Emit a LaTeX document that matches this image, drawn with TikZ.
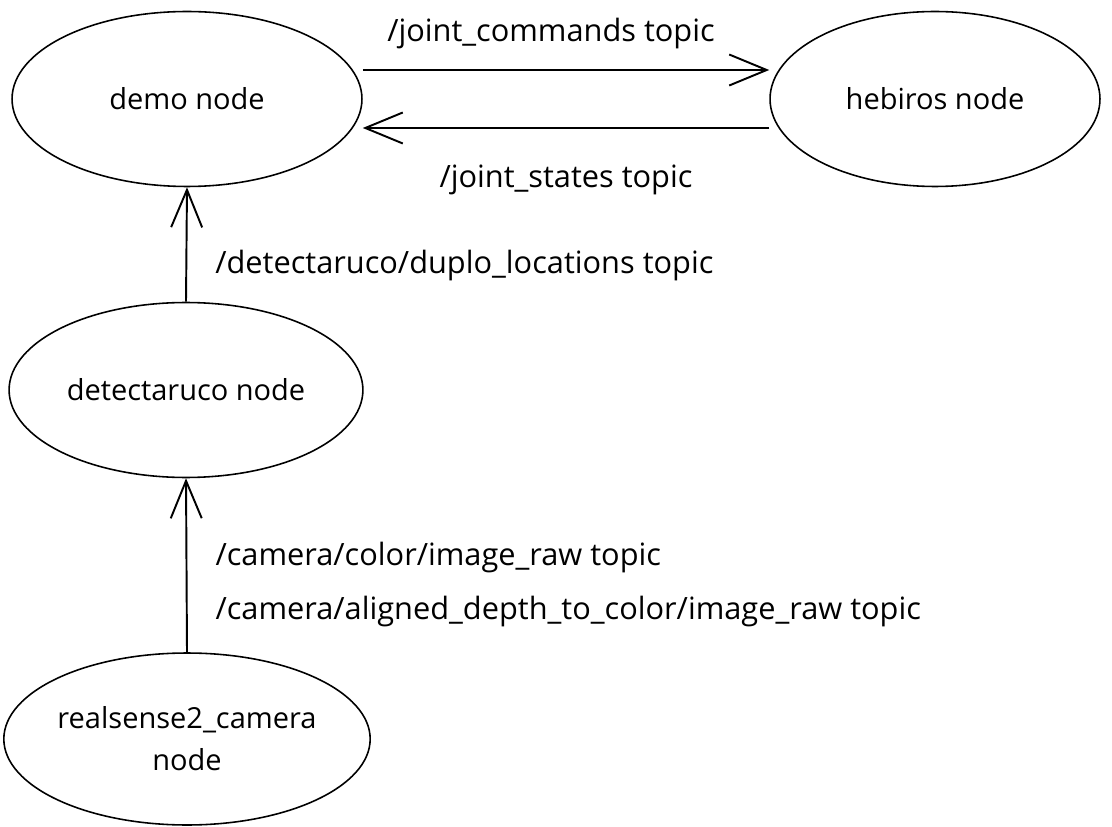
\documentclass[tikz,border=0pt]{standalone}
\usepackage{fontspec}
\setmainfont{Open Sans}
\usepackage{tikz}
\usetikzlibrary{shapes.geometric,arrows.meta,positioning}

\begin{document}
\begin{tikzpicture}[
    x=0.02cm, y=-0.02cm,
    rosnode/.style={ellipse, draw, line width=0.9pt, minimum width=7cm, minimum height=3.5cm, align=center, font=\fontsize{16.5}{24}\selectfont},
    topic/.style={font=\fontsize{17.5}{30.5}\selectfont, align=left, inner sep=0pt},
    line/.style={draw, line width=1.1pt, -{Straight Barb[length=0.75cm,width=0.62cm]}}
]
    \useasboundingbox (0,0) rectangle (1112,827);

    % ROS nodes
    \node [rosnode] (demo) at (187,99) {demo node};
    \node [rosnode, minimum width=6.6cm] (hebiros) at (935,99) {hebiros node};
    \node [rosnode] (detect) at (186,390) {detectaruco node};
    \node [rosnode, inner sep=0pt, minimum height=3.44cm] (camera) at (187,739) {realsense2\_camera\\node};

    % Joint topics between demo and hebiros
    \path [line] ([yshift=0.58cm]demo.east) -- node[above=0.4cm, xshift=-0.3cm, topic, anchor=south]{/joint\_commands topic} ([yshift=0.58cm]hebiros.west);
    \path [line] ([yshift=-0.58cm]hebiros.west) -- node[below=0.72cm, topic, anchor=north]{/joint\_states topic} ([yshift=-0.58cm]demo.east);

    % Detected locations
    \path [line] (detect.north) -- node[pos=0.32, anchor=west, xshift=0.56cm, topic]{/detectaruco/duplo\_locations topic} (demo.south);

    % Camera images
    \path [line] (camera.north) -- node[pos=0.39, anchor=west, xshift=0.56cm, topic]{/camera/color/image\_raw topic\\/camera/aligned\_depth\_to\_color/image\_raw topic} (detect.south);

\end{tikzpicture}
\end{document}
